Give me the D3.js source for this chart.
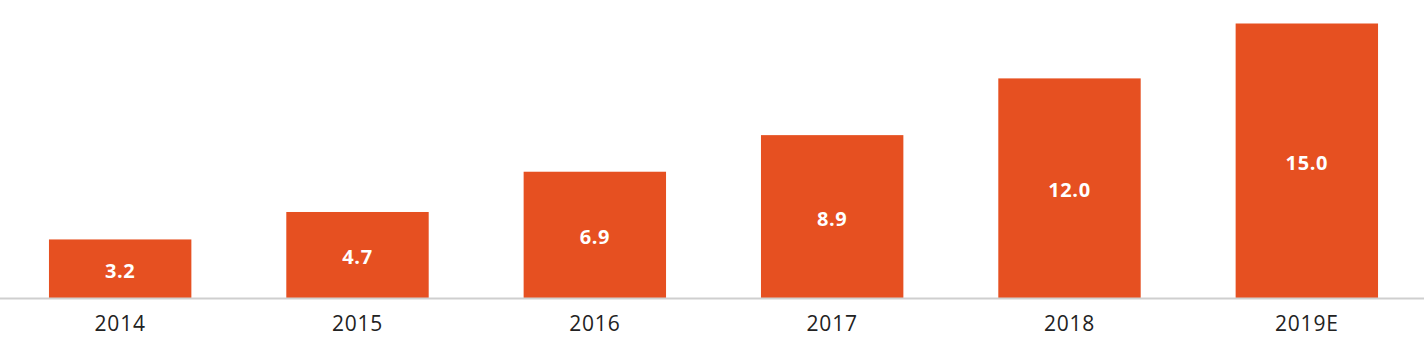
<!DOCTYPE html>
<meta charset="utf-8">
<style>
body, html {
  margin: 0;
  padding: 0;
  background: #fff;
  overflow: hidden;
}
svg { display: block; }
.value {
  fill: #fff;
  font-family: "Open Sans", sans-serif;
  font-weight: 700;
  font-size: 20px;
  letter-spacing: 0.6px;
}
.tick text {
  fill: #222;
  font-family: "Open Sans", sans-serif;
  font-size: 21px;
  letter-spacing: 0.8px;
}
</style>
<svg width="1424" height="353"></svg>
<script src="https://cdn.jsdelivr.net/npm/d3@7"></script>
<script>

var years = ["2014", "2015", "2016", "2017", "2018", "2019E"];
var values = [3.2, 4.7, 6.9, 8.9, 12.0, 15.0];

var width = 1424,
    baseline = 298;

var svg = d3.select("svg");

var x = d3.scaleBand()
    .domain(years)
    .range([1.5, 1425.5])
    .paddingInner(0.4)
    .paddingOuter(0.2);

var y = d3.scaleLinear()
    .domain([0, 15])
    .range([baseline, 23.5]);

svg.selectAll("rect.bar")
    .data(values)
  .enter().append("rect")
    .attr("class", "bar")
    .attr("x", function(d, i) { return x(years[i]); })
    .attr("y", function(d) { return y(d); })
    .attr("width", x.bandwidth())
    .attr("height", function(d) { return baseline - y(d); })
    .attr("fill", "#e65021");

svg.selectAll("text.value")
    .data(values)
  .enter().append("text")
    .attr("class", "value")
    .attr("text-anchor", "middle")
    .attr("dominant-baseline", "central")
    .attr("x", function(d, i) { return x(years[i]) + x.bandwidth() / 2; })
    .attr("y", function(d) { return (y(d) + baseline) / 2 + 1.5; })
    .text(function(d) { return d.toFixed(1); });

// x axis: full-width light rule, no ticks
var axis = svg.append("g")
    .attr("transform", "translate(0," + baseline + ")")
    .call(d3.axisBottom(x).tickSize(0).tickPadding(18));

axis.select(".domain").remove();

axis.append("line")
    .attr("x1", 0)
    .attr("x2", width)
    .attr("y1", 0.5)
    .attr("y2", 0.5)
    .attr("stroke", "#cfcfcf")
    .attr("stroke-width", 2);

</script>
